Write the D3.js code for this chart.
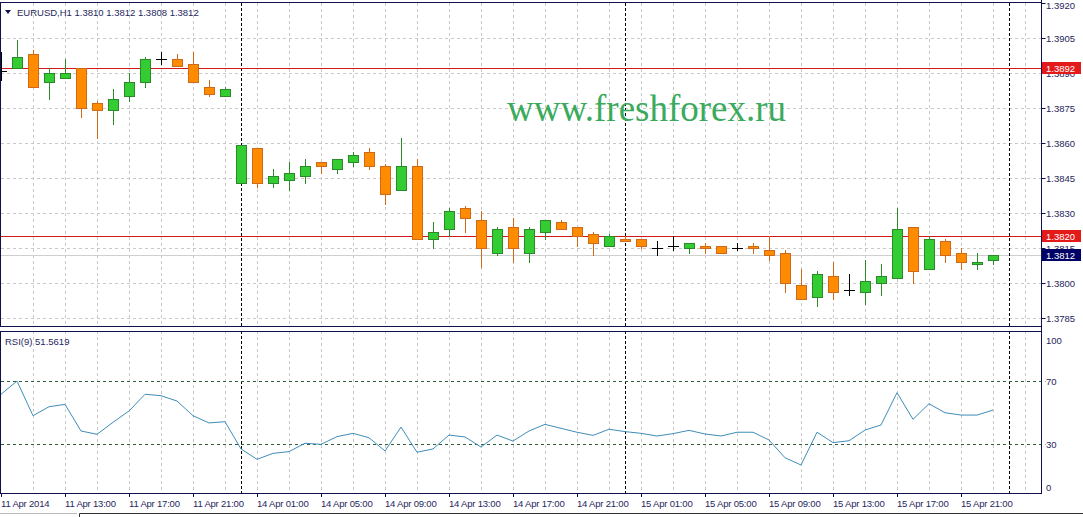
<!DOCTYPE html>
<html>
<head>
<meta charset="utf-8">
<script src="https://cdn.jsdelivr.net/npm/d3@7.9.0/dist/d3.min.js"></script>
<style>
  html, body { margin:0; padding:0; background:#fff; }
  svg text { font-family:'Liberation Sans', Arial, sans-serif; }
</style>
</head>
<body>
<div id="chart"></div>
<script>
// ─── DATA ────────────────────────────────────────────────────────────────────
const symbol = 'EURUSD,H1';
const barTimes = [
  '11 Apr 09:00','11 Apr 10:00','11 Apr 11:00','11 Apr 12:00','11 Apr 13:00','11 Apr 14:00','11 Apr 15:00','11 Apr 16:00',
  '11 Apr 17:00','11 Apr 18:00','11 Apr 19:00','11 Apr 20:00','11 Apr 21:00','11 Apr 22:00','11 Apr 23:00',
  '14 Apr 00:00','14 Apr 01:00','14 Apr 02:00','14 Apr 03:00','14 Apr 04:00','14 Apr 05:00','14 Apr 06:00','14 Apr 07:00',
  '14 Apr 08:00','14 Apr 09:00','14 Apr 10:00','14 Apr 11:00','14 Apr 12:00','14 Apr 13:00','14 Apr 14:00','14 Apr 15:00',
  '14 Apr 16:00','14 Apr 17:00','14 Apr 18:00','14 Apr 19:00','14 Apr 20:00','14 Apr 21:00','14 Apr 22:00','14 Apr 23:00',
  '15 Apr 00:00','15 Apr 01:00','15 Apr 02:00','15 Apr 03:00','15 Apr 04:00','15 Apr 05:00','15 Apr 06:00','15 Apr 07:00',
  '15 Apr 08:00','15 Apr 09:00','15 Apr 10:00','15 Apr 11:00','15 Apr 12:00','15 Apr 13:00','15 Apr 14:00','15 Apr 15:00',
  '15 Apr 16:00','15 Apr 17:00','15 Apr 18:00','15 Apr 19:00','15 Apr 20:00','15 Apr 21:00','15 Apr 22:00','15 Apr 23:00'
];
const opens  = [1.3891,1.3892,1.3898,1.3886,1.3888,1.3892,1.3877,1.3874,1.3880,1.3886,1.3896,1.3896,1.3894,1.3884,1.3880,
                1.3843,1.3858,1.3843,1.3844,1.3846,1.3852,1.3849,1.3852,1.3856,1.3850,1.3840,1.3850,1.3819,1.3823,1.3832,1.3827,
                1.3813,1.3824,1.3813,1.3822,1.3826,1.3824,1.3821,1.3816,
                1.3819,1.3819,1.3815,1.3816,1.3815,1.3816,1.3816,1.3815,1.3816,1.3814,1.3813,1.3799,1.3794,1.3803,1.3797,1.3796,
                1.3800,1.3802,1.3824,1.3806,1.3818,1.3813,1.3808,1.3810];
const highs  = [1.3899,1.3904,1.3900,1.3892,1.3896,1.3892,1.3878,1.3883,1.3890,1.3897,1.3899,1.3898,1.3899,1.3887,1.3884,
                1.3859,1.3858,1.3849,1.3852,1.3853,1.3852,1.3853,1.3856,1.3858,1.3851,1.3862,1.3853,1.3826,1.3832,1.3833,1.3831,
                1.3824,1.3828,1.3824,1.3827,1.3827,1.3824,1.3822,1.3821,
                1.3820,1.3819,1.3818,1.3820,1.3817,1.3817,1.3816,1.3817,1.3817,1.3820,1.3814,1.3806,1.3805,1.3809,1.3804,1.3810,
                1.3808,1.3832,1.3824,1.3820,1.3819,1.3815,1.3813,1.3812];
const lows   = [1.3887,1.3892,1.3884,1.3879,1.3888,1.3871,1.3862,1.3868,1.3878,1.3884,1.3894,1.3893,1.3886,1.3880,1.3880,
                1.3843,1.3841,1.3841,1.3840,1.3843,1.3847,1.3847,1.3850,1.3849,1.3834,1.3840,1.3819,1.3815,1.3820,1.3822,1.3807,
                1.3812,1.3809,1.3809,1.3819,1.3823,1.3816,1.3812,1.3816,
                1.3818,1.3815,1.3812,1.3814,1.3813,1.3813,1.3813,1.3814,1.3813,1.3810,1.3796,1.3793,1.3790,1.3793,1.3795,1.3791,
                1.3795,1.3802,1.3800,1.3806,1.3809,1.3806,1.3806,1.3808];
const closes = [1.3891,1.3897,1.3884,1.3890,1.3890,1.3875,1.3874,1.3879,1.3886,1.3896,1.3896,1.3893,1.3886,1.3881,1.3883,
                1.3859,1.3843,1.3846,1.3847,1.3850,1.3850,1.3853,1.3855,1.3850,1.3838,1.3850,1.3819,1.3822,1.3831,1.3828,1.3815,
                1.3823,1.3815,1.3823,1.3827,1.3823,1.3820,1.3817,1.3820,
                1.3818,1.3816,1.3815,1.3816,1.3817,1.3815,1.3813,1.3815,1.3815,1.3812,1.3800,1.3793,1.3804,1.3796,1.3797,1.3801,
                1.3803,1.3823,1.3805,1.3819,1.3812,1.3809,1.3809,1.3812];
const rsi = [61.6,70.0,48.0,53.7,55.2,38.3,36.2,43.8,51.0,61.6,60.7,57.3,48.0,43.4,44.2,
             26.9,20.3,24.1,25.2,30.5,29.8,34.7,36.8,34.0,25.6,40.8,24.8,26.9,35.7,34.5,28.1,
             35.7,31.9,38.3,42.5,40.0,37.5,35.5,39.4,
             37.9,36.8,35.1,36.6,38.7,36.4,35.1,37.5,37.5,32.6,21.3,16.7,37.5,30.9,32.1,38.9,
             42.1,62.6,45.7,55.6,49.9,48.4,48.4,51.5619];

const xTickTimes  = ['11 Apr 09:00','11 Apr 13:00','11 Apr 17:00','11 Apr 21:00','14 Apr 01:00','14 Apr 05:00','14 Apr 09:00','14 Apr 13:00',
                     '14 Apr 17:00','14 Apr 21:00','15 Apr 01:00','15 Apr 05:00','15 Apr 09:00','15 Apr 13:00','15 Apr 17:00','15 Apr 21:00'];
const xTickLabels = ['11 Apr 2014','11 Apr 13:00','11 Apr 17:00','11 Apr 21:00','14 Apr 01:00','14 Apr 05:00','14 Apr 09:00','14 Apr 13:00',
                     '14 Apr 17:00','14 Apr 21:00','15 Apr 01:00','15 Apr 05:00','15 Apr 09:00','15 Apr 13:00','15 Apr 17:00','15 Apr 21:00'];
const daySeparators = ['14 Apr 00:00','15 Apr 00:00','16 Apr 00:00'];
const priceTicks = [1.3920,1.3905,1.3890,1.3875,1.3860,1.3845,1.3830,1.3815,1.3800,1.3785];
const levelLines = [1.3892,1.3820];
const bidPrice = 1.3812;
const rsiTicks = [100,70,30,0];
const rsiLevels = [70,30];

// ─── LAYOUT ──────────────────────────────────────────────────────────────────
const W = 1083, H = 517;
const axisX = 1041.5;
const main = { top:3, bottom:326 };
const sub  = { top:331, bottom:493 };
const navy = '#10104a', txt = '#26265c';

const svg = d3.select('#chart').append('svg')
  .attr('width', W).attr('height', H)
  .style('display','block');

// slot index of a time (times past the last bar get the next slot)
const slot = t => { const i = barTimes.indexOf(t); return i >= 0 ? i : barTimes.length; };

const x  = d3.scaleLinear().domain([0, 63]).range([1, 1009]);
const y  = d3.scaleLinear().domain([1.3800, 1.3920]).range([283, 3]);
const yR = d3.scaleLinear().domain([0, 100]).range([491.3, 333.8]);

const defs = svg.append('defs');
defs.append('clipPath').attr('id','clipMain')
  .append('rect').attr('x',1).attr('y',main.top).attr('width',axisX-1).attr('height',main.bottom-main.top);
defs.append('clipPath').attr('id','clipSub')
  .append('rect').attr('x',1).attr('y',sub.top).attr('width',axisX-1).attr('height',sub.bottom-sub.top);

// ─── GRID ────────────────────────────────────────────────────────────────────
const gridX = d3.range(2, 65, 2);
[[main, 'clipMain'], [sub, 'clipSub']].forEach(([p, clip]) => {
  svg.append('g').attr('clip-path', `url(#${clip})`)
    .selectAll('line').data(gridX).enter().append('line')
      .attr('x1', d => Math.round(x(d)) + 0.5).attr('x2', d => Math.round(x(d)) + 0.5)
      .attr('y1', p.top).attr('y2', p.bottom)
      .attr('stroke','#c9c9c9').attr('stroke-dasharray','3,3');
});

svg.append('g').selectAll('line')
  .data(priceTicks.filter(v => y(v) > main.top + 2))
  .enter().append('line')
    .attr('x1', 1).attr('x2', axisX)
    .attr('y1', d => Math.round(y(d)) + 0.5).attr('y2', d => Math.round(y(d)) + 0.5)
    .attr('stroke','#c9c9c9').attr('stroke-dasharray','3,3');

// bid line
svg.append('line')
  .attr('x1', 1).attr('x2', axisX)
  .attr('y1', Math.round(y(bidPrice)) + 0.5).attr('y2', Math.round(y(bidPrice)) + 0.5)
  .attr('stroke','#cfcfcf');

// day separators
[main, sub].forEach(p => {
  svg.append('g').selectAll('line').data(daySeparators).enter().append('line')
    .attr('x1', d => Math.round(x(slot(d))) + 0.5).attr('x2', d => Math.round(x(slot(d))) + 0.5)
    .attr('y1', p.top).attr('y2', p.bottom)
    .attr('stroke','#000').attr('stroke-dasharray','3,2');
});

// ─── WATERMARK ───────────────────────────────────────────────────────────────
svg.append('text')
  .attr('x', 507).attr('y', 121)
  .style('font-family',"'Liberation Serif','Times New Roman',serif")
  .style('font-size','37px')
  .attr('fill','#3aaa5c')
  .text('www.freshforex.ru');

// ─── LEVEL LINES ─────────────────────────────────────────────────────────────
svg.append('g').selectAll('line').data(levelLines).enter().append('line')
  .attr('x1', 1).attr('x2', axisX)
  .attr('y1', d => Math.round(y(d)) + 0.5).attr('y2', d => Math.round(y(d)) + 0.5)
  .attr('stroke','#d01818');

// ─── CANDLES ─────────────────────────────────────────────────────────────────
const bars = barTimes.map((t, i) => ({ i, o:opens[i], h:highs[i], l:lows[i], c:closes[i] }));
const candles = svg.append('g').attr('clip-path','url(#clipMain)')
  .attr('shape-rendering','crispEdges');

bars.forEach(b => {
  const cx = Math.round(x(b.i));
  const doji = b.o === b.c;
  const up = b.c > b.o;
  const stroke = doji ? '#000' : (up ? '#2a8a2a' : '#d0691a');
  const fill = up ? '#33cc33' : '#ff8c00';
  const g = candles.append('g');
  g.append('line')
    .attr('x1', cx + 0.5).attr('x2', cx + 0.5)
    .attr('y1', Math.round(y(b.h))).attr('y2', Math.round(y(b.l)) + 1)
    .attr('stroke', stroke);
  if (doji) {
    g.append('line')
      .attr('x1', cx - 5).attr('x2', cx + 6)
      .attr('y1', Math.round(y(b.o)) + 0.5).attr('y2', Math.round(y(b.o)) + 0.5)
      .attr('stroke', stroke);
  } else {
    const top = Math.round(y(Math.max(b.o, b.c)));
    const bot = Math.round(y(Math.min(b.o, b.c)));
    g.append('rect')
      .attr('x', cx - 5 + 0.5).attr('y', top + 0.5)
      .attr('width', 10).attr('height', Math.max(bot - top, 1))
      .attr('fill', fill).attr('stroke', stroke);
  }
});

// ─── RSI ─────────────────────────────────────────────────────────────────────
svg.append('g').selectAll('line').data(rsiLevels).enter().append('line')
  .attr('x1', 1).attr('x2', axisX + 4)
  .attr('y1', d => Math.round(yR(d)) + 0.5).attr('y2', d => Math.round(yR(d)) + 0.5)
  .attr('stroke','#2f5e3a').attr('stroke-dasharray','3,3');

svg.append('path')
  .datum(rsi)
  .attr('clip-path','url(#clipSub)')
  .attr('fill','none')
  .attr('stroke','#3f8db8')
  .attr('stroke-width',1)
  .attr('d', d3.line().x((d, i) => x(i)).y(d => yR(d)));

// ─── FRAMES & AXES ───────────────────────────────────────────────────────────
const frame = svg.append('g').attr('fill','none').attr('stroke', navy).attr('shape-rendering','crispEdges');
frame.append('rect').attr('x',0.5).attr('y',2.5).attr('width',axisX-0.5).attr('height',main.bottom-2.5);
frame.append('rect').attr('x',0.5).attr('y',sub.top+0.5).attr('width',axisX-0.5).attr('height',sub.bottom-sub.top);
frame.append('line').attr('x1',axisX).attr('x2',axisX).attr('y1',0).attr('y2',sub.bottom+0.5);

// price axis
const pAxis = svg.append('g');
priceTicks.forEach(v => {
  const py = Math.round(y(v)) + 0.5;
  pAxis.append('line').attr('x1',axisX).attr('x2',axisX+4).attr('y1',py).attr('y2',py).attr('stroke',navy);
  pAxis.append('text').attr('x',1046).attr('y',Math.max(py, 5) + 3.5)
    .attr('fill',txt).style('font-size','9.5px').text(d3.format('.4f')(v));
});

// price tags
const tags = levelLines.map(v => ({ v, c:'#e31a1a' })).concat([{ v:bidPrice, c:'#000066' }]);
tags.forEach(t => {
  const py = Math.round(y(t.v));
  svg.append('rect').attr('x',1042).attr('y',py-6).attr('width',39).attr('height',12).attr('fill',t.c);
  svg.append('text').attr('x',1046).attr('y',py+3.5)
    .attr('fill','#fff').style('font-size','9.5px').text(d3.format('.4f')(t.v));
});

// rsi axis
rsiTicks.forEach(v => {
  const ly = Math.min(Math.max(yR(v), 340), 487);
  svg.append('text').attr('x',1046).attr('y',ly + 3.5)
    .attr('fill',txt).style('font-size','9.5px').text(v);
});

// time axis
const tAxis = svg.append('g');
xTickTimes.forEach((t, k) => {
  const tx = Math.round(x(slot(t)));
  tAxis.append('line').attr('x1',tx+0.5).attr('x2',tx+0.5).attr('y1',sub.bottom).attr('y2',sub.bottom+4).attr('stroke',navy);
  tAxis.append('text').attr('x',tx).attr('y',507)
    .attr('fill',txt).style('font-size','9.5px').style('letter-spacing','-0.2px').text(xTickLabels[k]);
});

// bottom tab strip
svg.append('line').attr('x1',0).attr('x2',77).attr('y1',513.5).attr('y2',513.5).attr('stroke','#bbb');
svg.append('path').attr('d','M79.5,517 V513.5 H1083').attr('fill','none').attr('stroke','#333');

// ─── LABELS ──────────────────────────────────────────────────────────────────
svg.append('path').attr('d','M5,10 L11,10 L8,14 Z').attr('fill',navy);
svg.append('text').attr('x',17).attr('y',15.5)
  .attr('fill',txt).style('font-size','9.5px')
  .text(`${symbol}  ${[opens[62], highs[62], lows[62], closes[62]].map(d3.format('.4f')).join(' ')}`);

svg.append('text').attr('x',5).attr('y',345)
  .attr('fill',txt).style('font-size','9.5px')
  .text(`RSI(9) ${rsi[rsi.length-1].toFixed(4)}`);
</script>
</body>
</html>
